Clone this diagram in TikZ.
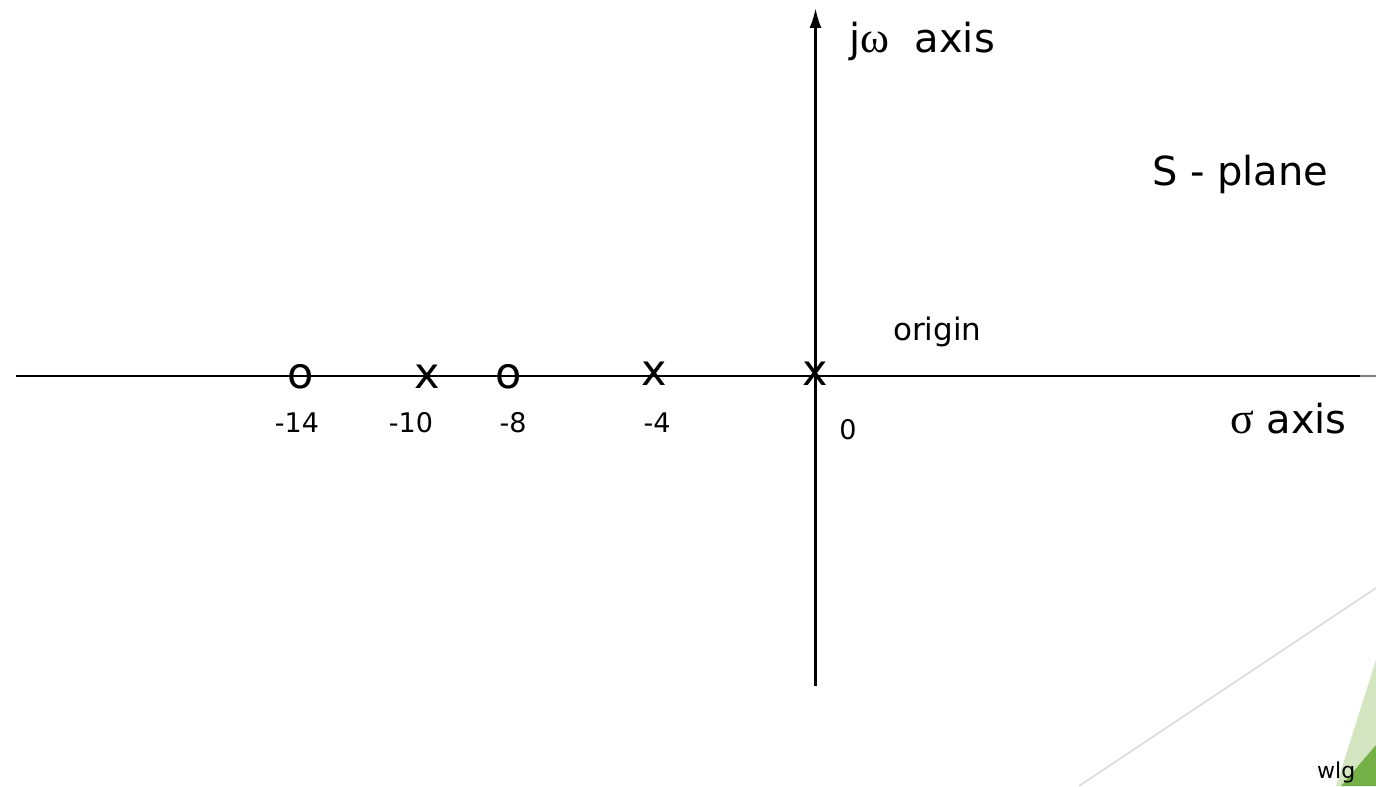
\documentclass[tikz,border=0pt]{standalone}
\usepackage{fontspec}
\setmainfont{DejaVu Sans}
\newfontfamily\grk{Liberation Serif}
\usetikzlibrary{arrows.meta}
\definecolor{lightgr}{HTML}{D3E6C1}
\definecolor{darkgr}{HTML}{74B046}
\definecolor{decoline}{HTML}{D9D9D9}
\tikzset{
  axisline/.style={line width=2.6bp, black},
  mk/.style={font=\fontsize{43bp}{43bp}\selectfont, inner sep=0pt},
  ticklab/.style={font=\fontsize{27bp}{27bp}\selectfont, inner sep=0pt},
  biglab/.style={font=\fontsize{40bp}{40bp}\selectfont, inner sep=0pt, anchor=base west},
  midlab/.style={font=\fontsize{31bp}{31bp}\selectfont, inner sep=0pt, anchor=base west},
  smalllab/.style={font=\fontsize{22bp}{22bp}\selectfont, inner sep=0pt, anchor=base west},
}
\begin{document}
\begin{tikzpicture}[x=1bp,y=-1bp]
\useasboundingbox (0,0) rectangle (1376,786);
% corner decoration
\coordinate (g1) at (1376,588);
\coordinate (g2) at (1079,786);
\draw[line width=1.5bp, decoline] (g1) -- (g2);
\fill[lightgr] (1376,660) -- (1376,786) -- (1336,786) -- cycle;
\fill[darkgr] (1376,745) -- (1376,786) -- (1341,786) -- cycle;
\node[smalllab] (wlg) at (1317,778) {wlg};
% axes
\coordinate (hl) at (16,376);
\coordinate (hr) at (1360,376);
\coordinate (he) at (1376,376);
\coordinate (vb) at (815.5,686);
\coordinate (vt) at (815.5,8);
\draw[axisline] (hl) -- (hr);
\draw[line width=2.6bp, gray] (hr) -- (he);
\draw[axisline, -{Latex[length=20bp,width=12bp]}] (vb) -- (vt);
% poles and zeros
\node[mk] (z14) at (301,376.5) {o};
\node[mk] (p10) at (427,376.5) {x};
\node[mk] (z8)  at (509,376.5) {o};
\node[mk] (p4)  at (654,374) {x};
\node[mk] (p0)  at (815,374) {x};
% tick labels
\node[ticklab] (t14) at (297,423) {-14};
\node[ticklab] (t10) at (411,423) {-10};
\node[ticklab] (t8)  at (513,423) {-8};
\node[ticklab] (t4)  at (657,423) {-4};
\node[ticklab] (t0)  at (848,430) {0};
% labels
\node[biglab] (jw) at (849,53) {j{\grk\fontsize{44bp}{44bp}\selectfont ω}\ \ axis};
\node[biglab] (sp) at (1152,185) {S - plane};
\node[midlab] (org) at (893,340) {origin};
\node[biglab] (sig) at (1230,433) {{\grk\fontsize{44bp}{44bp}\selectfont σ} axis};
\end{tikzpicture}
\end{document}
